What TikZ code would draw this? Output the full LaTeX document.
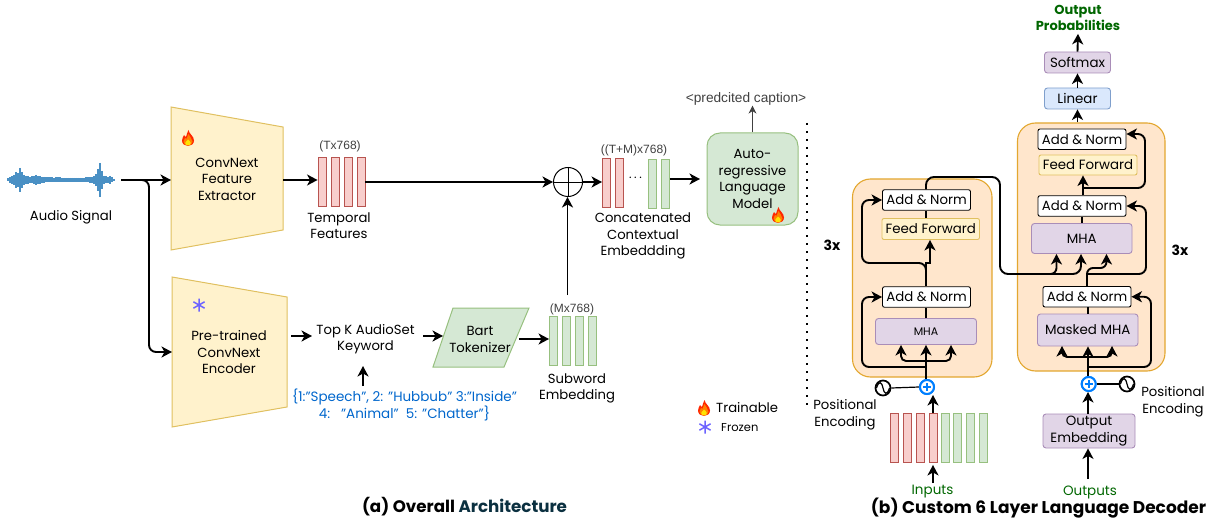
\documentclass[tikz,border=0pt]{standalone}
\usepackage{fontspec}
\setmainfont{Poppins}
\newfontfamily\capfont{Liberation Sans}
\usetikzlibrary{arrows.meta,calc}
\definecolor{yfill}{HTML}{FFF2CC}\definecolor{ystroke}{HTML}{E0C060}
\definecolor{rfill}{HTML}{F8CECC}\definecolor{rstroke}{HTML}{B85450}
\definecolor{gfill}{HTML}{D5E8D4}\definecolor{gstroke}{HTML}{97C07F}
\definecolor{pfill}{HTML}{E1D5E7}\definecolor{pstroke}{HTML}{A98DB8}
\definecolor{bfill}{HTML}{DAE8FC}\definecolor{bstroke}{HTML}{7F9FCC}
\definecolor{ofill}{HTML}{FFE6CC}\definecolor{ostroke}{HTML}{E3A72F}
\definecolor{wave}{HTML}{4A90C4}\definecolor{kw}{HTML}{0066CC}
\definecolor{plusc}{HTML}{007FFF}\definecolor{greent}{HTML}{006600}
\definecolor{starc}{HTML}{6C63FF}\definecolor{archc}{HTML}{0B3040}
\tikzset{
 x=1pt,y=-1pt,
 conn/.style={line width=1.9pt,rounded corners=7pt,-{Stealth[length=10.5pt,width=11pt,inset=3pt]}},
 plainconn/.style={line width=1.9pt,rounded corners=7pt},
 thinconn/.style={line width=1.1pt,black!75,-{Stealth[length=8pt,width=8pt,inset=2.5pt]}},
 txt/.style={inner sep=0pt,align=center,font=\fontsize{13.2}{16.5}\selectfont},
 captxt/.style={inner sep=0pt,font=\capfont\fontsize{12}{14}\selectfont,text=black!75},
 trap/.style={fill=yfill,draw=ystroke,line width=1pt,line join=miter},
 redbar/.style={draw=rstroke,fill=rfill,line width=.9pt,minimum width=8pt,minimum height=49pt,inner sep=0pt},
 greenbar/.style={draw=gstroke,fill=gfill,line width=.9pt,minimum width=8pt,minimum height=49pt,inner sep=0pt},
 whitebox/.style={draw=black,fill=white,line width=.9pt,rounded corners=2pt,minimum width=88pt,minimum height=20.5pt,inner sep=0pt,font=\fontsize{13.3}{15}\selectfont},
 ffbox/.style={draw=ystroke,fill=yfill,line width=.9pt,rounded corners=2pt,minimum height=21pt,inner sep=0pt,font=\fontsize{13.4}{15}\selectfont},
 pbox/.style={draw=pstroke,fill=pfill,line width=.9pt,rounded corners=3pt,inner sep=0pt,align=center,font=\fontsize{13.4}{16.5}\selectfont},
 lbox/.style={draw=bstroke,fill=bfill,line width=.9pt,rounded corners=3pt,inner sep=0pt,font=\fontsize{13.4}{15}\selectfont},
 panel/.style={draw=ostroke,fill=ofill,line width=1.1pt,rounded corners=18pt,inner sep=0pt},
 plusnode/.style={circle,draw=plusc,fill=white,line width=2pt,minimum size=14pt,inner sep=0pt},
 sinenode/.style={circle,draw=black,fill=white,line width=1.7pt,minimum size=15pt,inner sep=0pt},
 flame/.pic={
  \fill[red!70!orange] (0.5,-8) .. controls (1,-4) and (6,-2) .. (6,2.5) .. controls (6,6) and (3,8) .. (0,8) .. controls (-3,8) and (-6,6) .. (-6,2.5) .. controls (-6,0) and (-4.5,-1.5) .. (-4,-3) .. controls (-3,-2) and (-2.5,-1) .. (-2,-1) .. controls (-1,-3) and (-1,-6) .. (0.5,-8) -- cycle;
  \fill[orange] (0.5,-4) .. controls (1,-1) and (4.5,0) .. (4.5,3.5) .. controls (4.5,6) and (2.5,7.5) .. (0,7.5) .. controls (-2.5,7.5) and (-4.5,6) .. (-4.5,3.5) .. controls (-4.5,1.5) and (-3.5,1) .. (-3,0) .. controls (-2,1) and (-1,1) .. (-1,0) .. controls (-.8,-1.5) and (0,-3) .. (.5,-4) -- cycle;
  \fill[yellow!85!orange] (0,1.5) .. controls (1,3) and (2.8,3.5) .. (2.8,5) .. controls (2.8,6.5) and (1.2,7.5) .. (0,7.5) .. controls (-1.2,7.5) and (-2.8,6.5) .. (-2.8,5) .. controls (-2.8,3.5) and (-.8,3) .. (0,1.5) -- cycle;
 },
 starpic/.pic={
  \draw[starc,line width=1.5pt] (0,-6.5) -- (0,6.5) (-5.6,-3.2) -- (5.6,3.2) (-5.6,3.2) -- (5.6,-3.2);
 },
 plussign/.style={draw=plusc,line width=1.6pt},
}
\begin{document}
\begin{tikzpicture}
\useasboundingbox (0,0) rectangle (1219,524);
% waveform
\foreach \i/\a in {8/1.5,10/3,12/4,14/5,16/8,18/7,20/12,22/8,24/5,26/4,28/4,30/3,32/3.5,34/4,36/5,38/4,40/4,42/3,44/3,46/2.5,48/2.5,50/2.5,52/2.5,54/2,56/2.5,58/2.5,60/2.5,62/2,64/2,66/2,68/2,70/2,72/2,74/2,76/2,78/2,80/2,82/2,84/2,86/2.5,88/2.5,90/3,92/3,94/4,96/6,98/11,100/17,102/9,104/4,106/3.5,108/3,110/4,112/2.5,114/1}
  \draw[wave,line width=1.3pt] (\i,180-\a) -- (\i,180+\a);
\coordinate (wave) at (121,180);
\node[txt] (audio) at (71,217) {Audio Signal};
% trapezoids
\draw[trap] (171,107) coordinate (t1a) -- (283,127) -- (283,230) -- (171,250) -- cycle;
\draw[trap] (172,277) coordinate (t2a) -- (287,297) -- (287,407) -- (172,427) -- cycle;
\coordinate (t1w) at (171,180); \coordinate (t1e) at (283,180);
\coordinate (t2w) at (172,352); \coordinate (t2e) at (291,336);
\node[txt] (conv) at (227,179) {ConvNext\\Feature\\Extractor};
\node[txt] (pre) at (229,352.5) {Pre-trained\\ConvNext\\Encoder};
\pic at (188,138) {flame};
\pic at (199,305) {starpic};
% temporal
\node[redbar] (r1) at (322,181.5) {};
\node[redbar] (r2) at (335,181.5) {};
\node[redbar] (r3) at (348,181.5) {};
\node[redbar] (r4) at (361,181.5) {};
\node[captxt] (tdim) at (340,146) {(Tx768)};
\node[txt] (temp) at (339,225.5) {Temporal\\Features};
% branch
\coordinate (br) at (149,180);
\draw[conn] (wave) -- (t1w);
\draw[conn] (wave) -- (br) -- (149,352) -- (t2w);
\draw[conn] (t1e) -- (r1.west |- t1e);
% plus
\node[circle,draw=black,line width=1pt,minimum size=29pt,inner sep=0pt] (oplus) at (568,182) {};
\draw[line width=.8pt] (oplus.north) -- (oplus.south) (oplus.west) -- (oplus.east);
\draw[conn] (r4.east |- oplus.west) -- (oplus.west);
% concat
\node[redbar] (c1) at (606.5,183) {};
\node[redbar] (c2) at (619.5,183) {};
\node[greenbar] (c3) at (652,183.5) {};
\node[greenbar] (c4) at (665.5,183.5) {};
\node[txt,font=\fontsize{12}{12}\selectfont] (dots) at (635.5,177.5) {.\hspace{2.5pt}.\hspace{2.5pt}.};
\node[captxt] (cdim) at (634,150) {((T+M)x768)};
\node[txt] (cce) at (643,236) {Concatenated\\Contextual\\Embeddding};
\draw[conn] (oplus.east) -- (c1.west |- oplus.east);
% language model
\node[draw=gstroke,fill=gfill,line width=1pt,rounded corners=13pt,minimum width=91pt,minimum height=92pt,inner sep=0pt,txt] (lm) at (752.5,179) {Auto-\\regressive\\Language\\Model};
\draw[conn] (c4.east |- lm.west) -- (700,179);
\pic at (778,215) {flame};
\node[captxt,font=\capfont\fontsize{13.7}{15}\selectfont] (pred) at (746,99) {<predcited caption>};
\draw[thinconn] (lm.north) -- (pred.south -| lm.north);
% dotted divider
\coordinate (dv1) at (807,123); \coordinate (dv2) at (807,407);
\draw[line width=1.6pt,dash pattern=on 1.6pt off 6.4pt] (dv1) -- (dv2);
% lower path
\node[txt] (topk) at (365.5,339) {Top K AudioSet\\Keyword};
\draw[conn] (t2e) -- (312,336);
\node[txt,text=kw,font=\fontsize{13.5}{16}\selectfont] (kwd) at (404.5,405) {\{1:"Speech", 2: "Hubbub" 3:"Inside"\\4:\ \ \ "Animal"\ \ 5: "Chatter"\}};
\coordinate (k1) at (363,386); \coordinate (k2) at (363,366);
\draw[conn] (k1) -- (k2);
\draw[fill=gfill,draw=gstroke,line width=1pt] (453,308) -- (529,308) -- (504,367) -- (433,367) -- cycle;
\node[txt] (bart) at (480,339.5) {Bart\\Tokenizer};
\coordinate (b1) at (423,336); \coordinate (b2) at (443,336);
\draw[conn] (b1) -- (b2);
\node[greenbar] (s1) at (553.5,341) {};
\node[greenbar] (s2) at (566.5,341) {};
\node[greenbar] (s3) at (579.5,341) {};
\node[greenbar] (s4) at (592.5,341) {};
\node[captxt] (mdim) at (572,309) {(Mx768)};
\node[txt] (sub) at (577,388.5) {Subword\\Embedding};
\coordinate (b3) at (519,339);
\draw[conn] (b3) -- (s1.west |- b3);
\coordinate (mup) at (567.5,295);
\draw[conn] (mup) -- (oplus.south -| mup);
% legend
\pic at (704,408) {flame};
\node[txt,anchor=west] (leg1) at (716,408) {Trainable};
\pic at (705,427) {starpic};
\node[txt,anchor=west,font=\fontsize{11.5}{13}\selectfont] (leg2) at (721,428) {Frozen};
% left decoder
\node[panel,minimum width=139.5pt,minimum height=198pt] (pl) at (922.25,278) {};
\node[panel,minimum width=147.5pt,minimum height=248pt] (pr) at (1091.25,247) {};
\node[plusnode] (p1) at (927,387) {};
\node[sinenode] (s1c) at (883,388) {};
\draw[line width=1.2pt] (s1c.east) -- (p1.west);
\draw[line width=1.2pt] (876.5,388) .. controls (879,380) and (882,382) .. (883,388) .. controls (884,394) and (887,396) .. (889.5,388);
\node[txt] (pe1) at (845,415) {Positional\\Encoding};
\node[redbar] (d1) at (894,438) {};
\node[redbar] (d2) at (907,438) {};
\node[redbar] (d3) at (920,438) {};
\node[redbar] (d4) at (933,438) {};
\node[greenbar] (d5) at (945,438) {};
\node[greenbar] (d6) at (957.5,438) {};
\node[greenbar] (d7) at (970.5,438) {};
\node[greenbar] (d8) at (983,438) {};
\node[txt,text=greent,font=\fontsize{13.5}{15}\selectfont] (inp) at (932.5,492) {Inputs};
\coordinate (i1) at (933,483);
\draw[conn] (i1) -- ($(d4.south)+(0,2)$);
\draw[conn] (d4.north) -- (p1.south -| d4.north);
\node[whitebox] (an1) at (926.5,297) {Add \& Norm};
\node[pbox,minimum width=101pt,minimum height=26pt,font=\fontsize{11}{13}\selectfont] (mha1) at (926,331.5) {MHA};
\node[ffbox,minimum width=97.5pt] (ff1) at (930.75,229) {Feed Forward};
\node[whitebox] (an2) at (926.5,200) {Add \& Norm};
\node[txt,font=\bfseries\fontsize{14}{16}\selectfont] (x31) at (832,245) {3x};
% left decoder connectors
\coordinate (t1) at (926,377); \coordinate (t2) at (926,367); \coordinate (t3) at (926,361);
\draw[plainconn,line width=2.4pt] (p1.north -| t1) -- (t2);
\draw[plainconn] (t2) -- (t3);
\draw[conn] (t3) -- (mha1.south -| t3);
\draw[conn,rounded corners=5pt] (t3) -- (901,361) -- (901,345);
\draw[conn,rounded corners=5pt] (t3) -- (951,361) -- (951,345);
\draw[conn] (t2) -- (862,367) -- (862,297) -- (an1.west);
\draw[plainconn] (mha1.north -| t1) -- (an1.south -| t1);
\coordinate (j1) at (926,269); \coordinate (j2) at (930,263);
\draw[conn,rounded corners=0pt] (an1.north -| t1) -- (j1) -- (926,263) -- (j2) -- (ff1.south -| j2);
\draw[conn] (j1) -- (926,263) -- (862,263) -- (862,200) -- (an2.west);
\draw[plainconn] (ff1.north -| t1) -- (an2.south -| t1);
% right decoder
\node[pbox,minimum width=66pt,minimum height=21pt] (soft) at (1077.5,62.5) {Softmax};
\node[lbox,minimum width=66pt,minimum height=21pt] (lin) at (1077.5,98.5) {Linear};
\node[txt,text=greent,font=\bfseries\fontsize{13}{16}\selectfont] (outp) at (1078,18) {Output\\Probabilities};
\node[whitebox] (an3) at (1082,139.25) {Add \& Norm};
\node[ffbox,minimum width=98pt,minimum height=20pt] (ff2) at (1088,165) {Feed Forward};
\node[whitebox] (an4) at (1082,206) {Add \& Norm};
\node[pbox,minimum width=100.5pt,minimum height=30pt] (mha2) at (1081.75,238.5) {MHA};
\node[whitebox] (an5) at (1087,296.75) {Add \& Norm};
\node[pbox,minimum width=100.5pt,minimum height=32pt] (mm) at (1087.75,330) {Masked MHA};
\node[plusnode] (p2) at (1088.7,384) {};
\node[sinenode] (s2c) at (1127,384) {};
\draw[line width=1.2pt] (p2.east) -- (s2c.west);
\draw[line width=1.2pt] (1120.5,384) .. controls (1123,376) and (1126,378) .. (1127,384) .. controls (1128,390) and (1131,392) .. (1133.5,384);
\node[txt] (pe2) at (1173,402) {Positional\\Encoding};
\node[pbox,minimum width=92pt,minimum height=34pt] (oemb) at (1089,431) {Output\\Embedding};
\node[txt,text=greent,font=\fontsize{13.5}{15}\selectfont] (outs) at (1090,492) {Outputs};
\node[txt,font=\bfseries\fontsize{14}{16}\selectfont] (x32) at (1180,250) {3x};
\draw[conn] (soft.north) -- ($(outp.south)+(0,3)$);
\draw[conn] (lin.north) -- (soft.south);
\draw[conn] (lin.south |- pr.north) -- (lin.south);
\coordinate (oe1) at (1088,479);
\draw[conn] (oe1) -- (oemb.south -| oe1);
\draw[conn] (oemb.north -| oe1) -- (p2.south -| oe1);
\coordinate (u1) at (1088,367); \coordinate (u2) at (1088,357);
\draw[plainconn,line width=2.4pt] (p2.north -| u1) -- (u1);
\draw[plainconn] (u1) -- (u2);
\draw[conn] (u2) -- (mm.south -| u2);
\draw[conn,rounded corners=5pt] (u2) -- (1062,357) -- (1062,346);
\draw[conn,rounded corners=5pt] (u2) -- (1112,357) -- (1112,346);
\draw[conn] (u1) -- (1151,367) -- (1151,296.75) -- (an5.east);
\draw[plainconn] (mm.north -| u1) -- (an5.south -| u1);
\coordinate (v1) at (1087,274);
\draw[plainconn] (an5.north -| v1) -- (v1);
\draw[conn] (v1) -- (1146,274) -- (1146,206) -- (an4.east);
\draw[conn,rounded corners=6pt] (v1) -- (1087,268) -- (1106.5,268) -- (1106.5,254);
% the big link
\coordinate (g1) at (926,177);
\draw[conn,rounded corners=8pt] (an2.north -| g1) -- (g1) -- (1000,177) -- (1000,274) -- (1081,274) -- (1081,254);
\coordinate (g2) at (1040,274);
\draw[conn,rounded corners=6pt] (g2) -- (1056.5,274) -- (1056.5,254);
\draw[plainconn] (mha2.north -| an4.south) -- (an4.south);
\coordinate (w1) at (1083,188);
\draw[conn] (an4.north -| w1) -- (ff2.south -| w1);
\draw[conn] (w1) -- (1145,188) -- (1145,134) -- (an3.east |- 0,134);
% plus signs on top of the trunk ends
\node[plusnode] (p1b) at (p1) {};
\draw[plussign] ($(p1b)+(-4,0)$) -- ($(p1b)+(4,0)$) ($(p1b)+(0,-4)$) -- ($(p1b)+(0,4)$);
\node[plusnode] (p2b) at (p2) {};
\draw[plussign] ($(p2b)+(-4,0)$) -- ($(p2b)+(4,0)$) ($(p2b)+(0,-4)$) -- ($(p2b)+(0,4)$);
% titles
\node[inner sep=0pt,font=\bfseries\fontsize{16.7}{20}\selectfont] (ta) at (464.5,506.5) {(a) Overall \textcolor{archc}{Architecture}};
\node[inner sep=0pt,font=\bfseries\fontsize{17}{20}\selectfont] (tb) at (1038.5,508.5) {(b) Custom 6 Layer Language Decoder};
\end{tikzpicture}
\end{document}
